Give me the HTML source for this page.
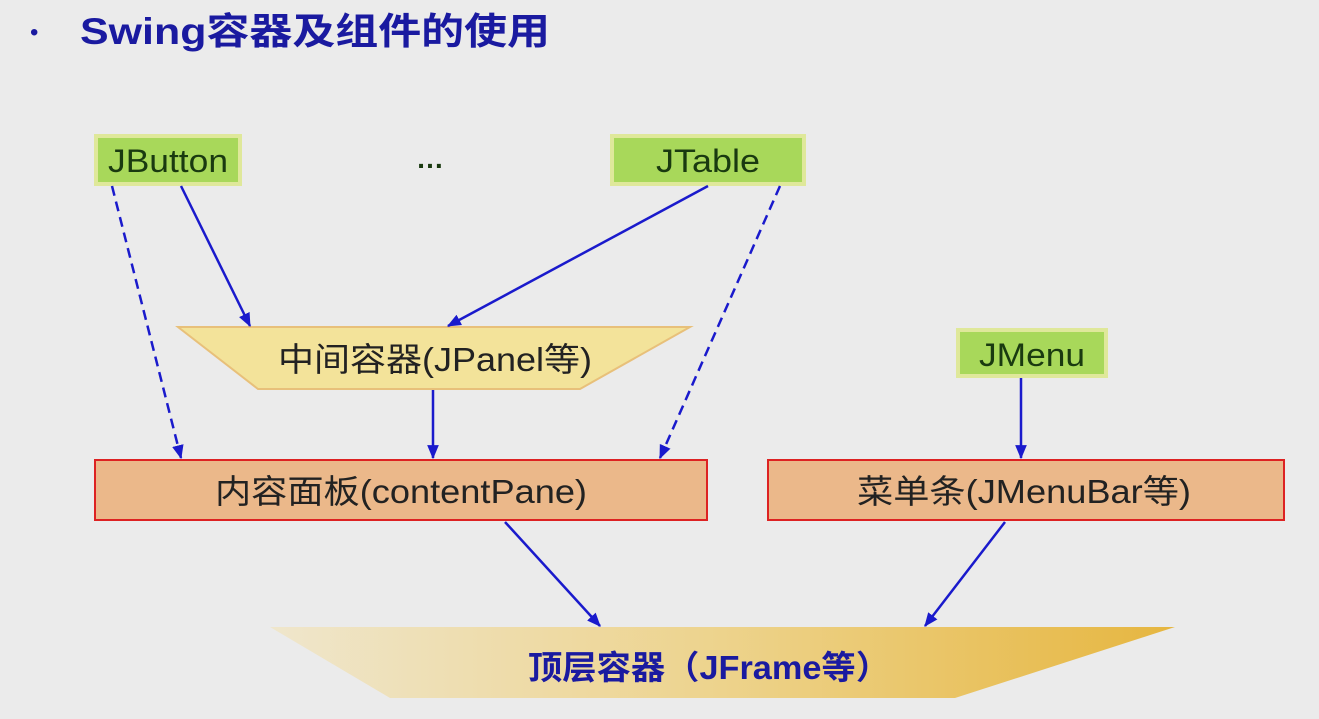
<!DOCTYPE html>
<html><head><meta charset="utf-8"><style>
html,body{margin:0;padding:0;background:#ebebeb;}
svg{display:block;font-family:"Liberation Sans","Noto Sans CJK SC",sans-serif;}
</style></head><body>
<svg width="1319" height="719" viewBox="0 0 1319 719" xmlns="http://www.w3.org/2000/svg">
<defs>
<marker id="a" markerWidth="14" markerHeight="14" refX="11" refY="6" orient="auto" markerUnits="userSpaceOnUse" viewBox="0 0 12 12"><path d="M0,1 L12,6 L0,11 Z" fill="#1a1acc"/></marker>
<linearGradient id="g" x1="0" x2="1" y1="0" y2="0"><stop offset="0" stop-color="#efe6cc"/><stop offset="0.5" stop-color="#edd38c"/><stop offset="1" stop-color="#e6b640"/></linearGradient>
</defs>
<rect width="1319" height="719" fill="#ebebeb"/>
<text x="30" y="40" font-size="24" fill="#1a1aa0">•</text>
<text x="80" y="44" font-size="37" font-weight="bold" fill="#1a1aa0" textLength="470" lengthAdjust="spacingAndGlyphs">Swing容器及组件的使用</text>

<rect x="96" y="136" width="144" height="48" fill="#a8d85a" stroke="#dfe89a" stroke-width="4"/>
<text x="168" y="172" font-size="32" fill="#1a3a10" text-anchor="middle" textLength="120" lengthAdjust="spacingAndGlyphs">JButton</text>
<text x="430" y="168" font-size="28" font-weight="bold" fill="#1a3a10" text-anchor="middle">…</text>
<rect x="612" y="136" width="192" height="48" fill="#a8d85a" stroke="#dfe89a" stroke-width="4"/>
<text x="708" y="172" font-size="32" fill="#1a3a10" text-anchor="middle" textLength="104" lengthAdjust="spacingAndGlyphs">JTable</text>
<rect x="958" y="330" width="148" height="46" fill="#a8d85a" stroke="#dfe89a" stroke-width="4"/>
<text x="1032" y="366" font-size="32" fill="#1a3a10" text-anchor="middle" textLength="106" lengthAdjust="spacingAndGlyphs">JMenu</text>

<polygon points="178,327 690,327 580,389 258,389" fill="#f3e39a" stroke="#e8c07a" stroke-width="2"/>
<text x="435" y="371" font-size="33" fill="#222" text-anchor="middle" textLength="314" lengthAdjust="spacingAndGlyphs">中间容器(JPanel等)</text>

<rect x="95" y="460" width="612" height="60" fill="#ebb88a" stroke="#dd2222" stroke-width="2"/>
<text x="401" y="503" font-size="33" fill="#222" text-anchor="middle" textLength="372" lengthAdjust="spacingAndGlyphs">内容面板(contentPane)</text>
<rect x="768" y="460" width="516" height="60" fill="#ebb88a" stroke="#dd2222" stroke-width="2"/>
<text x="1024" y="503" font-size="33" fill="#222" text-anchor="middle" textLength="334" lengthAdjust="spacingAndGlyphs">菜单条(JMenuBar等)</text>

<polygon points="270,627 1175,627 955,698 390,698" fill="url(#g)"/>
<text x="709" y="679" font-size="33" font-weight="bold" fill="#1a1aa0" text-anchor="middle" textLength="362" lengthAdjust="spacingAndGlyphs">顶层容器（JFrame等）</text>

<g stroke="#1a1acc" stroke-width="2.5" fill="none">
<line x1="181" y1="186" x2="250" y2="326" marker-end="url(#a)"/>
<line x1="708" y1="186" x2="448" y2="326" marker-end="url(#a)"/>
<line x1="433" y1="390" x2="433" y2="458" marker-end="url(#a)"/>
<line x1="1021" y1="378" x2="1021" y2="458" marker-end="url(#a)"/>
<line x1="112" y1="186" x2="181" y2="458" stroke-dasharray="10,6" marker-end="url(#a)"/>
<line x1="780" y1="186" x2="660" y2="458" stroke-dasharray="10,6" marker-end="url(#a)"/>
<line x1="505" y1="522" x2="600" y2="626" marker-end="url(#a)"/>
<line x1="1005" y1="522" x2="925" y2="626" marker-end="url(#a)"/>
</g>
</svg>
</body></html>
